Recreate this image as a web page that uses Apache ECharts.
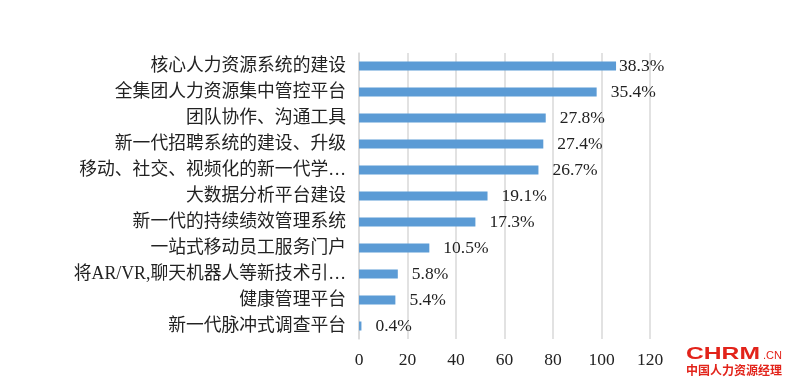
<!DOCTYPE html>
<html>
<head>
<meta charset="utf-8">
<script src="https://cdn.jsdelivr.net/npm/echarts@6/dist/echarts.min.js"></script>
<style>html,body{margin:0;padding:0;background:#fff}#c{width:796px;height:391px}</style>
</head>
<body>
<div id="c"></div>
<script>
const categories = ['核心人力资源系统的建设','全集团人力资源集中管控平台','团队协作、沟通工具','新一代招聘系统的建设、升级','移动、社交、视频化的新一代学…','大数据分析平台建设','新一代的持续绩效管理系统','一站式移动员工服务门户','将AR/VR,聊天机器人等新技术引…','健康管理平台','新一代脉冲式调查平台'];
const counts = [106, 98, 77, 76, 74, 53, 48, 29, 16, 15, 1];
const percentLabels = ['38.3%','35.4%','27.8%','27.4%','26.7%','19.1%','17.3%','10.5%','5.8%','5.4%','0.4%'];
const xMin = 0, xMax = 120, xStep = 20;

const FONT = "'Liberation Serif', 'Noto Sans CJK SC', serif";
const chart = echarts.init(document.getElementById('c'), null, {renderer:'canvas'});
chart.setOption({
  backgroundColor:'#fff',
  animation:false,
  grid:{left:359, right:146, top:53, bottom:52},
  xAxis:{
    type:'value', min:xMin, max:xMax, interval:xStep,
    axisLine:{show:false}, axisTick:{show:false},
    splitLine:{show:true, lineStyle:{color:'#d9d9d9', width:1.5}},
    axisLabel:{margin:13, color:'#222', fontSize:17.5, fontFamily:FONT}
  },
  yAxis:{
    type:'category', data:categories, inverse:true,
    axisLine:{show:true, lineStyle:{color:'#d9d9d9', width:1.5}},
    axisTick:{show:false},
    axisLabel:{margin:13, color:'#222', fontSize:17.8, fontFamily:FONT}
  },
  series:[{
    type:'bar', barWidth:9,
    itemStyle:{color:'#5b9bd5'},
    data:counts.map((v,i)=>({value:v, label:{distance: i===0 ? 3 : 14}})),
    label:{show:true, position:'right', color:'#222', fontSize:17.5, fontFamily:FONT,
      formatter:p=>percentLabels[p.dataIndex]}
  }],
  graphic:[
    {type:'text', left:686, top:346, style:{text:'CHRM', fill:'#e2231a', font:'bold 17px Arial, "Liberation Sans", sans-serif'}, scaleX:1.45},
    {type:'text', left:763, top:350, style:{text:'.CN', fill:'#e2231a', font:'11px "Liberation Sans", sans-serif'}},
    {type:'text', left:686, top:364, style:{text:'中国人力资源经理', fill:'#e2231a', font:'bold 12px "Noto Sans CJK SC", sans-serif'}}
  ]
});
</script>
</body>
</html>
